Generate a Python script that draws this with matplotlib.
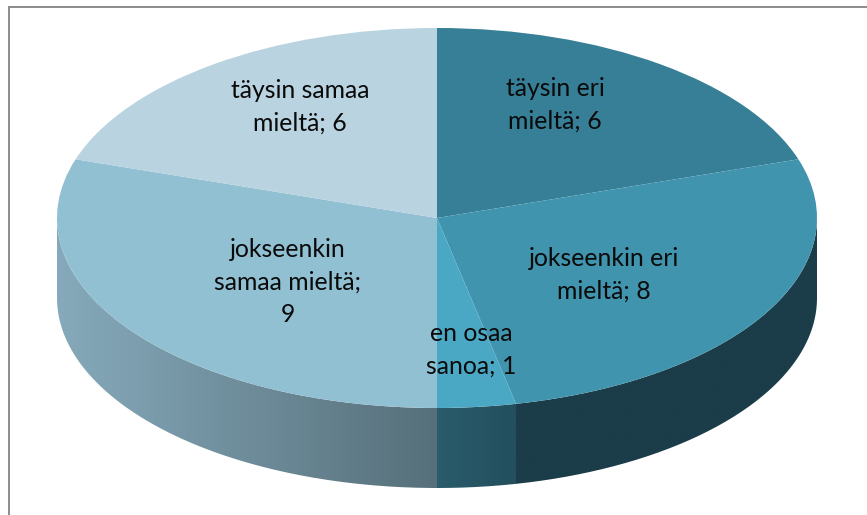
import numpy as np
import matplotlib
matplotlib.use("Agg")
import matplotlib.pyplot as plt
from matplotlib.colors import LinearSegmentedColormap
from matplotlib.patches import PathPatch
from matplotlib.path import Path

categories = ["täysin eri\nmieltä", "jokseenkin eri\nmieltä", "en osaa\nsanoa",
              "jokseenkin\nsamaa mieltä;\n", "täysin samaa\nmieltä"]
values = [6, 8, 1, 9, 6]
top_colors = ["#367f96", "#4094ae", "#4aa8c4", "#91c0d3", "#b9d3e0"]
wall_left = ["#1b3c49", "#1b3c49", "#2a5c6b", "#86aabb", "#000000"]
wall_right = ["#1b3c49", "#1b3c49", "#234f5e", "#566f7a", "#000000"]

W, H = 867, 515
CX, CY, RX, RY, DEPTH = 437.0, 218.0, 380.0, 190.0, 80.0

plt.rcParams["font.family"] = ["Lato", "DejaVu Sans"]
fig = plt.figure(figsize=(W / 100, H / 100), dpi=100, facecolor="white")
ax = fig.add_axes([0, 0, 1, 1])

wedges, _ = ax.pie(values, colors=top_colors, startangle=90, counterclock=False,
                   radius=1.0, wedgeprops={"linewidth": 0, "zorder": 5})
ax.set_aspect("auto")
ax.set_xlim(-CX / RX, (W - CX) / RX)
ax.set_ylim((CY - H) / RY, CY / RY)
ax.axis("off")
depth = DEPTH / RY

# side walls, one for each slice on the front half of the disc
edges = np.cumsum([0] + values) / np.sum(values) * 2 * np.pi  # clockwise from top
for i in range(len(values)):
    a0 = max(edges[i], np.pi / 2)
    a1 = min(edges[i + 1], 3 * np.pi / 2)
    if a1 <= a0:
        continue
    t = np.linspace(a0, a1, 120)
    x, y = np.sin(t), np.cos(t)
    verts = np.r_[np.c_[x, y], np.c_[x[::-1], y[::-1] - depth], [[x[0], y[0]]]]
    clip = PathPatch(Path(verts), facecolor="none", edgecolor="none", transform=ax.transData)
    ax.add_patch(clip)
    xmin, xmax = x.min(), x.max()
    cols = (wall_left[i], wall_right[i])
    cmap = LinearSegmentedColormap.from_list("w", cols)
    im = ax.imshow(np.linspace(0, 1, 256)[None, :], cmap=cmap, aspect="auto",
                   extent=(xmin, xmax, -1.6, 0.2), zorder=2, interpolation="bilinear")
    im.set_clip_path(clip)
ax.set_xlim(-CX / RX, (W - CX) / RX)
ax.set_ylim((CY - H) / RY, CY / RY)

# chart area frame
frame = dict(color="#8c8c8c", lw=1.4, transform=fig.transFigure, clip_on=False, zorder=1)
ax.plot([8.5 / W, 8.5 / W], [0, 1 - 6.5 / H], **frame)
ax.plot([8.5 / W, 1], [1 - 6.5 / H, 1 - 6.5 / H], **frame)

# data labels
label_px = [(555, 105), (604, 275), (471, 350), (288, 282), (300, 107)]
for (px, py), cat, val in zip(label_px, categories, values):
    txt = f"{cat}{val}" if cat.endswith("\n") else f"{cat}; {val}"
    ax.text(px / W, 1 - py / H, txt, transform=fig.transFigure, ha="center", va="center",
            fontsize=17.8, color="#0a0a0a", linespacing=1.52, zorder=10)

fig.savefig("out.png", dpi=100)
